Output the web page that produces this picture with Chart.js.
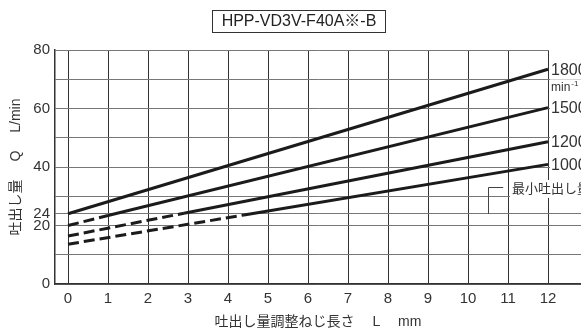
<!DOCTYPE html>
<html>
<head>
<meta charset="utf-8">
<script src="https://cdn.jsdelivr.net/npm/chart.js@4/dist/chart.umd.min.js"></script>
<style>
  html, body { margin: 0; padding: 0; background: #fff; }
  #wrap { width: 581px; height: 331px; }
</style>
</head>
<body>
<div id="wrap"><canvas id="c" width="581" height="331"></canvas></div>
<script>
// ---- data ----
const chartTitle = 'HPP-VD3V-F40A※-B';
const speedLabels = ['1800', '1500', '1200', '1000'];
const L_1800 = [0, 12];
const Q_1800 = [24, 73.4];
const L_1500 = [0, 1.0, 12];
const Q_1500 = [20, 23.4, 60.3];
const L_1200 = [0, 2.9, 12];
const Q_1200 = [16.4, 24.2, 48.6];
const L_1000 = [0, 4.4, 12];
const Q_1000 = [13.6, 23.6, 40.9];
const minFlow = 24;
const xTicks = [0, 1, 2, 3, 4, 5, 6, 7, 8, 9, 10, 11, 12];
const yTicks = [0, 10, 20, 24, 30, 40, 50, 60, 70, 80];
const yLabelTicks = [0, 20, 24, 40, 60, 80];
const xTitle = '吐出し量調整ねじ長さ　 L　 mm';
const yTitle = '吐出し量　 Q　 L/min';
const unitText = 'min';
const unitSup = '-1';
const minFlowText = '最小吐出し量';

const FONT = '"Liberation Sans", "Noto Sans CJK JP", sans-serif';
Chart.defaults.font.family = FONT;
Chart.defaults.color = '#333';

function pts(xs, ys) { return xs.map((x, i) => ({ x: x, y: ys[i] })); }
const seriesData = [pts(L_1800, Q_1800), pts(L_1500, Q_1500), pts(L_1200, Q_1200), pts(L_1000, Q_1000)];

const datasets = seriesData.map((d, i) => ({
  label: speedLabels[i] + ' min-1',
  data: d,
  borderColor: '#1b1b1b',
  borderWidth: 3,
  pointRadius: 0,
  tension: 0,
  fill: false,
  borderCapStyle: 'butt',
  segment: {
    borderDash: ctx => (ctx.p1.parsed.y < minFlow + 1 ? [11, 5] : undefined)
  }
}));

const decor = {
  id: 'decor',
  afterDatasetsDraw(chart) {
    const ctx = chart.ctx;
    const xs = chart.scales.x, ys = chart.scales.y;
    const x12 = xs.getPixelForValue(12);
    ctx.save();
    // top border ends at L = 12
    ctx.fillStyle = '#fff';
    ctx.fillRect(x12 + 1, chart.chartArea.top - 2, chart.width - x12, 4);

    // speed labels at line ends
    ctx.textBaseline = 'middle';
    ctx.textAlign = 'left';
    ctx.font = '16px ' + FONT;
    seriesData.forEach((d, i) => {
      const last = d[d.length - 1];
      const px = xs.getPixelForValue(last.x);
      const py = ys.getPixelForValue(last.y);
      const w = ctx.measureText(speedLabels[i]).width;
      ctx.fillStyle = '#fff';
      ctx.fillRect(px + 2, py - 8, w + 6, 16);
      ctx.fillStyle = '#333';
      ctx.fillText(speedLabels[i], px + 3, py + 1);
      if (i === 0) {
        ctx.font = '12px ' + FONT;
        const w2 = ctx.measureText(unitText).width;
        ctx.fillStyle = '#fff';
        ctx.fillRect(px + 2, py + 10, w2 + 14, 14);
        ctx.fillStyle = '#333';
        ctx.fillText(unitText, px + 3, py + 18);
        ctx.font = '8px ' + FONT;
        ctx.fillText(unitSup, px + 4 + w2, py + 14);
        ctx.font = '16px ' + FONT;
      }
    });

    // minimum flow bracket and label
    const bx = xs.getPixelForValue(10.5);
    const bx2 = xs.getPixelForValue(10.88);
    const by0 = ys.getPixelForValue(minFlow);
    const by1 = ys.getPixelForValue(33.0);
    ctx.strokeStyle = '#444';
    ctx.lineWidth = 1;
    ctx.beginPath();
    ctx.moveTo(Math.round(bx) + 0.5, by0);
    ctx.lineTo(Math.round(bx) + 0.5, Math.round(by1) + 0.5);
    ctx.lineTo(bx2, Math.round(by1) + 0.5);
    ctx.stroke();
    ctx.font = '13px ' + FONT;
    const tx = xs.getPixelForValue(11.1);
    const ty = ys.getPixelForValue(32.5);
    const tw = ctx.measureText(minFlowText).width;
    ctx.fillStyle = '#fff';
    ctx.fillRect(tx - 2, ty - 9, tw + 4, 18);
    ctx.fillStyle = '#333';
    ctx.fillText(minFlowText, tx, ty);

    // title box
    ctx.font = '16px ' + FONT;
    ctx.textAlign = 'center';
    ctx.strokeStyle = '#333';
    ctx.strokeRect(212.5, 10.5, 173, 22);
    ctx.fillStyle = '#222';
    ctx.fillText(chartTitle, 299, 22);
    ctx.restore();
  }
};

new Chart(document.getElementById('c'), {
  type: 'line',
  data: { datasets: datasets },
  options: {
    responsive: false,
    animation: false,
    devicePixelRatio: 1,
    layout: { padding: { top: 50, left: 0, right: 0, bottom: 0 } },
    plugins: { legend: { display: false }, tooltip: { enabled: false }, title: { display: false } },
    scales: {
      x: {
        type: 'linear',
        min: -0.325,
        max: 12.825,
        afterBuildTicks: s => { s.ticks = xTicks.map(v => ({ value: v })); },
        afterFit: s => { s.height = 47; },
        ticks: { font: { size: 15 }, color: '#333', padding: 6, maxRotation: 0, autoSkip: false, callback: v => String(v) },
        grid: { color: '#333', lineWidth: 1, drawTicks: false },
        border: { display: true, color: '#333', width: 1.5 },
        title: { display: true, text: xTitle, font: { size: 14 }, color: '#333', padding: { top: 0, bottom: 0 } }
      },
      y: {
        type: 'linear',
        min: 0,
        max: 80,
        afterBuildTicks: s => { s.ticks = yTicks.map(v => ({ value: v })); },
        afterFit: s => { s.width = 55; },
        ticks: { font: { size: 15 }, color: '#333', padding: 5, autoSkip: false, callback: v => (yLabelTicks.includes(v) ? String(v) : '') },
        grid: { color: '#777', lineWidth: 1, drawTicks: false },
        border: { display: true, color: '#333', width: 1.5 },
        title: { display: true, text: yTitle, font: { size: 14 }, color: '#333', padding: { top: 8, bottom: 0 } }
      }
    }
  },
  plugins: [decor]
});
</script>
</body>
</html>
